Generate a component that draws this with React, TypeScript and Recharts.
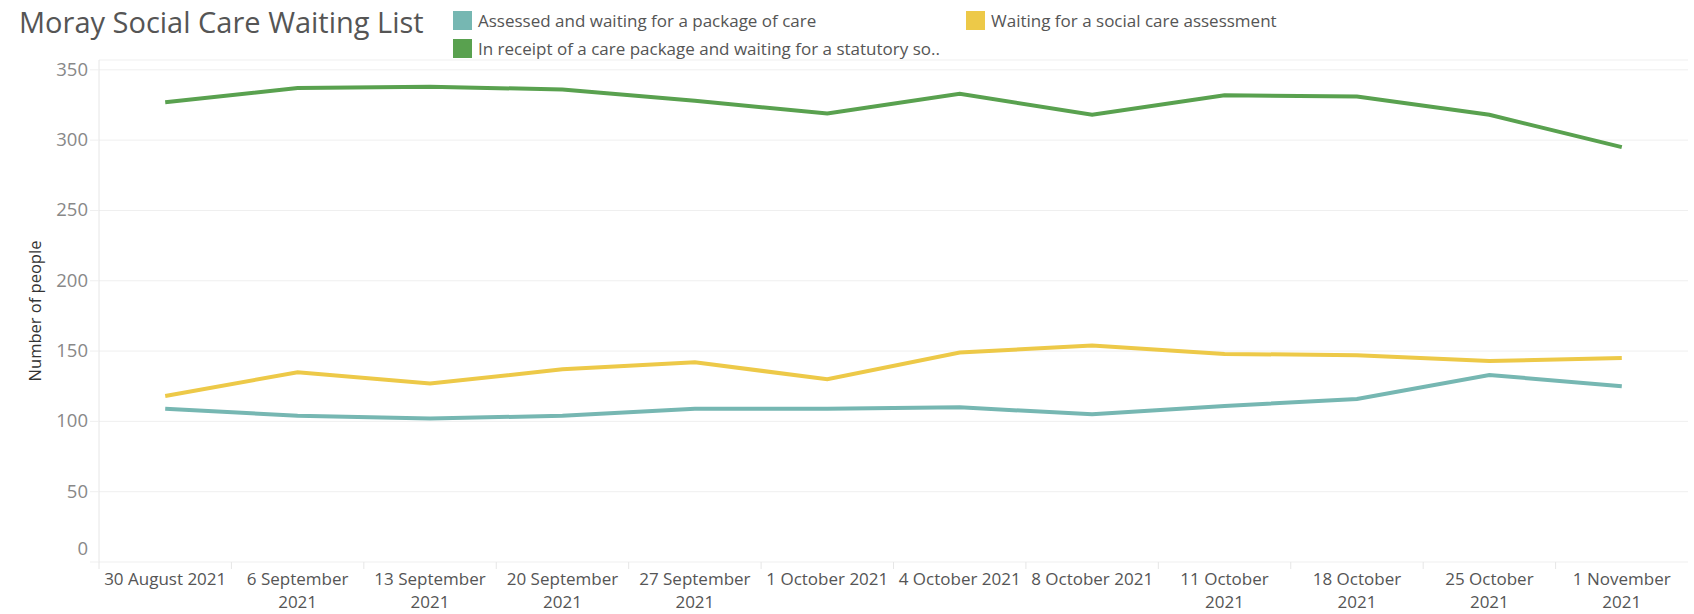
import React from "react";
import { LineChart, Line, XAxis, YAxis, CartesianGrid, Legend } from "recharts";

const weeks = [
  "30 August 2021",
  "6 September 2021",
  "13 September 2021",
  "20 September 2021",
  "27 September 2021",
  "1 October 2021",
  "4 October 2021",
  "8 October 2021",
  "11 October 2021",
  "18 October 2021",
  "25 October 2021",
  "1 November 2021",
];

const assessedWaiting = [109, 104, 102, 104, 109, 109, 110, 105, 111, 116, 133, 125];
const inReceiptWaiting = [327, 337, 338, 336, 328, 319, 333, 318, 332, 331, 318, 295];
const waitingAssessment = [118, 135, 127, 137, 142, 130, 149, 154, 148, 147, 143, 145];

const yTicks = [0, 50, 100, 150, 200, 250, 300, 350];

const seriesNames = {
  assessed: "Assessed and waiting for a package of care",
  inReceipt: "In receipt of a care package and waiting for a statutory so..",
  waiting: "Waiting for a social care assessment",
};

const data = weeks.map((week, i) => ({
  week,
  assessed: assessedWaiting[i],
  inReceipt: inReceiptWaiting[i],
  waiting: waitingAssessment[i],
}));

const FONT = "'Open Sans', sans-serif";
const BAND_HALF = (1694 - 99 - 6) / weeks.length / 2;

function WeekTick(props: any) {
  const { x, y, payload } = props;
  const label: string = payload.value;
  const cut = label.lastIndexOf(" ");
  // long labels wrap the year onto a second line, like the original
  const lines = label.length > 14 ? [label.slice(0, cut), label.slice(cut + 1)] : [label];
  return (
    <g>
      <line x1={x - BAND_HALF} x2={x - BAND_HALF} y1={y} y2={y + 7} stroke="#e6e6e6" />
      <text x={x} y={y + 23} textAnchor="middle" fill="#555" fontSize={17} fontFamily={FONT}>
        {lines.map((l, i) => (
          <tspan key={i} x={x} dy={i === 0 ? 0 : 23}>
            {l}
          </tspan>
        ))}
      </text>
    </g>
  );
}

function CountTick(props: any) {
  const { x, y, payload } = props;
  const shift = payload.value === 0 ? -13 : 0;
  return (
    <text
      x={x}
      y={y + shift}
      dy={6}
      textAnchor="end"
      fill="#888"
      fontSize={18.5}
      fontFamily={FONT}
    >
      {payload.value}
    </text>
  );
}

function LegendBox({ payload }: { payload?: any[] }) {
  if (!payload) return null;
  return (
    <div
      style={{
        display: "grid",
        gridTemplateRows: "28px 28px",
        gridAutoFlow: "column",
        gridAutoColumns: "513px",
        fontFamily: FONT,
        fontSize: 17,
        color: "#555",
      }}
    >
      {payload.map((p) => (
        <div key={p.value} style={{ display: "flex", alignItems: "center", whiteSpace: "nowrap" }}>
          <span
            style={{
              width: 19,
              height: 19,
              background: p.color,
              marginRight: 6,
              flex: "none",
            }}
          />
          {p.value}
        </div>
      ))}
    </div>
  );
}

export default function App() {
  return (
    <div style={{ position: "relative", width: 1694, height: 614, background: "#fff" }}>
      <style>{"body{margin:0}"}</style>
      <div
        style={{
          position: "absolute",
          left: 19,
          top: 2,
          fontFamily: FONT,
          fontSize: 29,
          color: "#555",
          whiteSpace: "nowrap",
        }}
      >
        Moray Social Care Waiting List
      </div>
      <LineChart
        width={1694}
        height={614}
        data={data}
        margin={{ top: 60, right: 6, bottom: 0, left: 0 }}
      >
        <CartesianGrid vertical={false} stroke="#efefef" />
        <XAxis
          dataKey="week"
          scale="band"
          height={52}
          interval={0}
          axisLine={false}
          tickLine={false}
          tickSize={0}
          tickMargin={0}
          tick={<WeekTick />}
        />
        <YAxis
          width={99}
          domain={[0, 357]}
          ticks={yTicks}
          interval={0}
          axisLine={{ stroke: "#e6e6e6" }}
          tickLine={{ stroke: "#efefef" }}
          tickSize={9}
          tick={<CountTick />}
          label={{
            value: "Number of people",
            angle: -90,
            position: "insideLeft",
            offset: 0,
            dx: 35,
            style: { fontFamily: FONT, fontSize: 16.5, fill: "#333", textAnchor: "middle" },
          }}
        />
        <Legend
          layout="horizontal"
          verticalAlign="middle"
          align="center"
          wrapperStyle={{ top: 6, left: 453, width: 1200, height: 56 }}
          content={<LegendBox />}
        />
        <Line
          dataKey="assessed"
          name={seriesNames.assessed}
          stroke="#76b7b2"
          strokeWidth={4}
          dot={false}
          isAnimationActive={false}
        />
        <Line
          dataKey="inReceipt"
          name={seriesNames.inReceipt}
          stroke="#59a14f"
          strokeWidth={4}
          dot={false}
          isAnimationActive={false}
        />
        <Line
          dataKey="waiting"
          name={seriesNames.waiting}
          stroke="#edc948"
          strokeWidth={4}
          dot={false}
          isAnimationActive={false}
        />
      </LineChart>
    </div>
  );
}
